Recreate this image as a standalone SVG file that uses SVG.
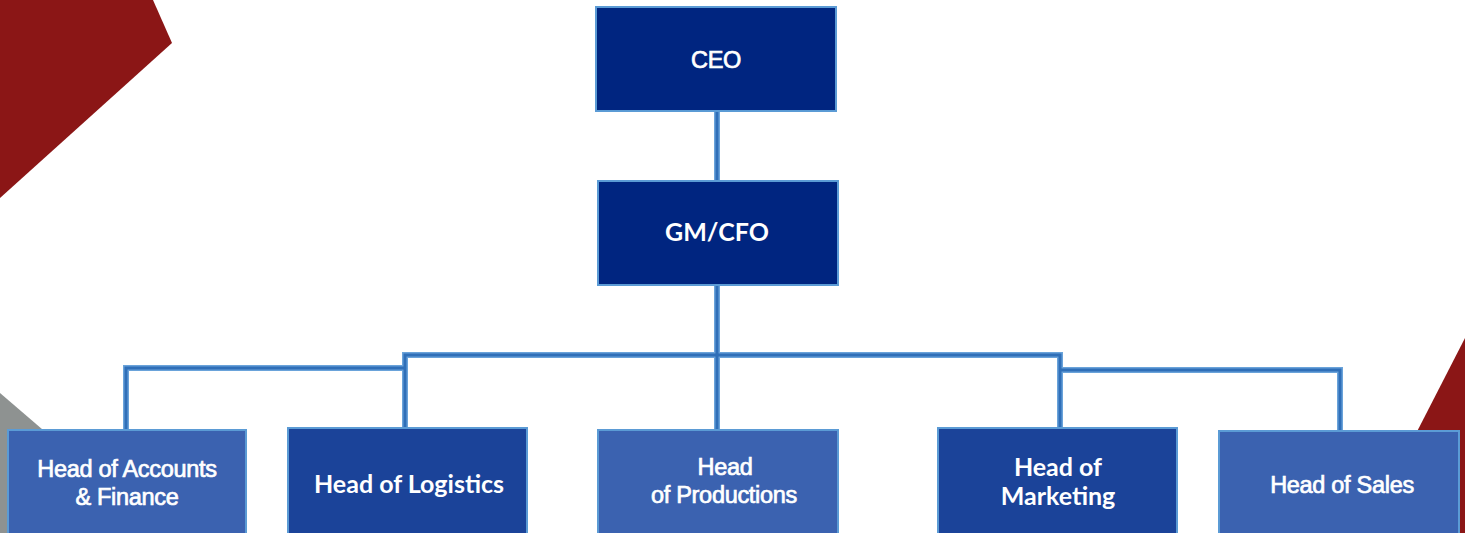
<svg xmlns="http://www.w3.org/2000/svg" width="1465" height="533" viewBox="0 0 1465 533">
<style>
.box{stroke:#5B9BD5;stroke-width:2}
.navy{fill:#002580}
.mid{fill:#1B4399}
.light{fill:#3B62B0}
.conn{fill:none;stroke-linejoin:miter;stroke-linecap:square}
.outer{stroke:#6AA3DA;stroke-width:6}
.inner{stroke:#2F6FB8;stroke-width:3}
.ta{font-family:"Liberation Sans",Arial,sans-serif;font-size:23.5px;fill:#FFFFFF;stroke:#FFFFFF;stroke-width:0.7px;text-anchor:middle;letter-spacing:-0.3px}
.tc{font-family:Lato,"Open Sans",sans-serif;font-weight:bold;font-size:25px;fill:#FFFFFF;text-anchor:middle}
</style>
<rect width="1465" height="533" fill="#FFFFFF"/>
<g id="decor">
<polygon points="0,0 153,0 172,43 0,198" fill="#8B1616"/>
<polygon points="0,393 163,533 0,533" fill="#8E9291"/>
<polygon points="1465,338 1465,533 1365,533" fill="#8B1616"/>
</g>
<g id="connectors" class="conn">
<path class="outer" d="M717,111 V181 M717,285 V430 M405,355 H1060 M405,355 V428 M405,368 H126 V430 M1060,355 V428 M1060,370 H1340 V431"/>
<path class="inner" d="M717,111 V181 M717,285 V430 M405,355 H1060 M405,355 V428 M405,368 H126 V430 M1060,355 V428 M1060,370 H1340 V431"/>
</g>
<g id="ceo">
<rect class="box navy" x="596" y="7" width="240" height="104"/>
<text class="ta" x="716" y="68">CEO</text>
</g>
<g id="gmcfo">
<rect class="box navy" x="598" y="181" width="240" height="104"/>
<text class="tc" x="717" y="241">GM/CFO</text>
</g>
<g id="accounts">
<rect class="box light" x="8" y="430" width="238" height="110"/>
<text class="ta" x="127" y="477">Head of Accounts</text>
<text class="ta" x="127" y="505">&amp; Finance</text>
</g>
<g id="logistics">
<rect class="box mid" x="288" y="428" width="239" height="112"/>
<text class="tc" x="409" y="493">Head of Logistics</text>
</g>
<g id="productions">
<rect class="box light" x="598" y="430" width="240" height="110"/>
<text class="ta" x="725" y="475">Head</text>
<text class="ta" x="724" y="503">of Productions</text>
</g>
<g id="marketing">
<rect class="box mid" x="938" y="428" width="239" height="112"/>
<text class="tc" x="1058" y="476">Head of</text>
<text class="tc" x="1058" y="505">Marketing</text>
</g>
<g id="sales">
<rect class="box light" x="1219" y="431" width="240" height="110"/>
<text class="ta" x="1342" y="493">Head of Sales</text>
</g>
</svg>
